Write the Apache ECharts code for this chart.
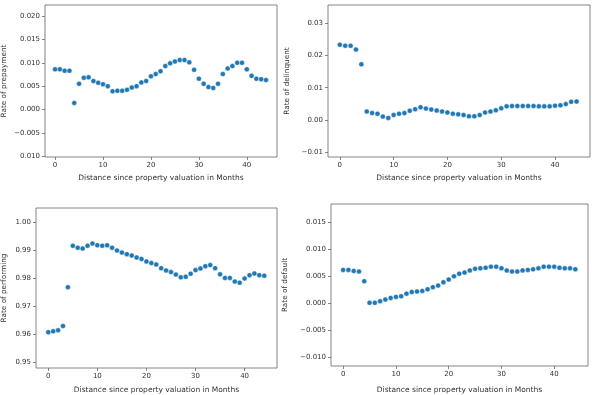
<!DOCTYPE html>
<html><head><meta charset="utf-8">
<script src="https://cdn.jsdelivr.net/npm/echarts@6/dist/echarts.min.js"></script>
<style>html,body{margin:0;padding:0;background:#fff}#c{width:595px;height:395px}</style>
</head><body><div id="c"></div>
<script>
const months = [0,1,2,3,4,5,6,7,8,9,10,11,12,13,14,15,16,17,18,19,20,21,22,23,24,25,26,27,28,29,30,31,32,33,34,35,36,37,38,39,40,41,42,43,44];
const prepayment = [0.0086,0.0086,0.0083,0.0083,0.0014,0.0055,0.0068,0.0069,0.0061,0.0057,0.0054,0.0050,0.0039,0.0040,0.0040,0.0042,0.0047,0.0050,0.0058,0.0061,0.0071,0.0076,0.0082,0.0093,0.0099,0.0103,0.0106,0.0106,0.0101,0.0085,0.0066,0.0055,0.0048,0.0046,0.0055,0.0076,0.0088,0.0093,0.0100,0.0100,0.0086,0.0072,0.0066,0.0065,0.0063];
const delinquent = [0.0234,0.0231,0.0231,0.0219,0.0173,0.0026,0.0021,0.0019,0.0010,0.0006,0.0015,0.0019,0.0021,0.0028,0.0033,0.0039,0.0035,0.0032,0.0029,0.0026,0.0023,0.0019,0.0017,0.0015,0.0011,0.0011,0.0015,0.0023,0.0026,0.0030,0.0036,0.0042,0.0043,0.0043,0.0043,0.0043,0.0043,0.0042,0.0042,0.0042,0.0044,0.0045,0.0049,0.0056,0.0057];
const performing = [0.9608,0.9611,0.9615,0.9630,0.9769,0.9917,0.9910,0.9907,0.9917,0.9925,0.9919,0.9917,0.9919,0.9910,0.9900,0.9893,0.9887,0.9882,0.9875,0.9870,0.9861,0.9855,0.9850,0.9837,0.9829,0.9823,0.9814,0.9804,0.9806,0.9817,0.9830,0.9836,0.9844,0.9848,0.9837,0.9815,0.9802,0.9802,0.9789,0.9785,0.9800,0.9812,0.9818,0.9812,0.9810];
const defaultRate = [0.0061,0.0061,0.0059,0.0058,0.0040,0.0000,0.0000,0.0003,0.0006,0.0009,0.0011,0.0012,0.0017,0.0020,0.0021,0.0022,0.0025,0.0029,0.0032,0.0038,0.0043,0.0049,0.0054,0.0056,0.0060,0.0063,0.0064,0.0065,0.0067,0.0067,0.0064,0.0060,0.0058,0.0058,0.0060,0.0061,0.0062,0.0064,0.0067,0.0067,0.0067,0.0065,0.0064,0.0064,0.0062];

const xTicks = [0,10,20,30,40];
const yTicks1 = [-0.010,-0.005,0,0.005,0.010,0.015,0.020];
const yTickLabels1 = ['0.010','\u22120.005','0.000','0.005','0.010','0.015','0.020'];
const yTicks2 = [-0.01,0,0.01,0.02,0.03];
const yTickLabels2 = ['\u22120.01','0.00','0.01','0.02','0.03'];
const yTicks3 = [0.95,0.96,0.97,0.98,0.99,1.00];
const yTickLabels3 = ['0.95','0.96','0.97','0.98','0.99','1.00'];
const yTicks4 = [-0.010,-0.005,0,0.005,0.010,0.015];
const yTickLabels4 = ['\u22120.010','\u22120.005','0.000','0.005','0.010','0.015'];

const xTitle = 'Distance since property valuation in Months';
const panels = [
  {y: prepayment, name: 'Rate of prepayment', ticks: yTicks1, labels: yTickLabels1,
   grid: {left: 43, top: 5, width: 234, height: 152}, xr: [-2.1, 46.3], yr: [-0.0102, 0.0224], yGap: 37, xGap: 17},
  {y: delinquent, name: 'Rate of delinquent', ticks: yTicks2, labels: yTickLabels2,
   grid: {left: 328, top: 5, width: 262, height: 152}, xr: [-2.2, 46.5], yr: [-0.0116, 0.0358], yGap: 37, xGap: 17},
  {y: performing, name: 'Rate of performing', ticks: yTicks3, labels: yTickLabels3,
   grid: {left: 35, top: 208, width: 242, height: 160}, xr: [-2.5, 46.6], yr: [0.948, 1.0052], yGap: 28, xGap: 18},
  {y: defaultRate, name: 'Rate of default', ticks: yTicks4, labels: yTickLabels4,
   grid: {left: 331, top: 204, width: 257, height: 163}, xr: [-2.3, 46.4], yr: [-0.0117, 0.0183], yGap: 42, xGap: 20}
];

const font = 'DejaVu Sans';
const txt = '#333';
const line = '#666';
const option = {animation: false, backgroundColor: '#fff', grid: [], xAxis: [], yAxis: [], series: []};
panels.forEach((p, i) => {
  option.grid.push(Object.assign({show: true, borderColor: line, borderWidth: 0.8, backgroundColor: 'transparent', containLabel: false}, p.grid));
  option.xAxis.push({
    type: 'value', gridIndex: i, min: p.xr[0], max: p.xr[1],
    name: xTitle, nameLocation: 'middle', nameGap: p.xGap,
    nameTextStyle: {fontFamily: font, fontSize: 7.5, color: txt},
    axisLine: {show: false, onZero: false}, splitLine: {show: false},
    axisTick: {show: true, length: 3, lineStyle: {color: line, width: 0.8}, customValues: xTicks},
    axisLabel: {fontFamily: font, fontSize: 7, color: txt, margin: 5, customValues: xTicks, formatter: v => String(Math.round(v))}
  });
  option.yAxis.push({
    type: 'value', gridIndex: i, min: p.yr[0], max: p.yr[1],
    name: p.name, nameLocation: 'middle', nameRotate: 90, nameGap: p.yGap,
    nameTextStyle: {fontFamily: font, fontSize: 7.3, color: txt},
    axisLine: {show: false, onZero: false}, splitLine: {show: false},
    axisTick: {show: true, length: 3, lineStyle: {color: line, width: 0.8}, customValues: p.ticks},
    axisLabel: {fontFamily: font, fontSize: 7, color: txt, margin: 5, customValues: p.ticks,
      formatter: v => { let k = p.ticks.findIndex(t => Math.abs(t - v) < 1e-9); return k >= 0 ? p.labels[k] : ''; }}
  });
  option.series.push({
    type: 'scatter', xAxisIndex: i, yAxisIndex: i,
    data: months.map((m, j) => [m, p.y[j]]),
    symbolSize: 5,
    itemStyle: {color: '#1f77b4', borderColor: '#fff', borderWidth: 0.4, opacity: 1}
  });
});
const chart = echarts.init(document.getElementById('c'), null, {renderer: 'canvas'});
chart.setOption(option);
</script></body></html>
